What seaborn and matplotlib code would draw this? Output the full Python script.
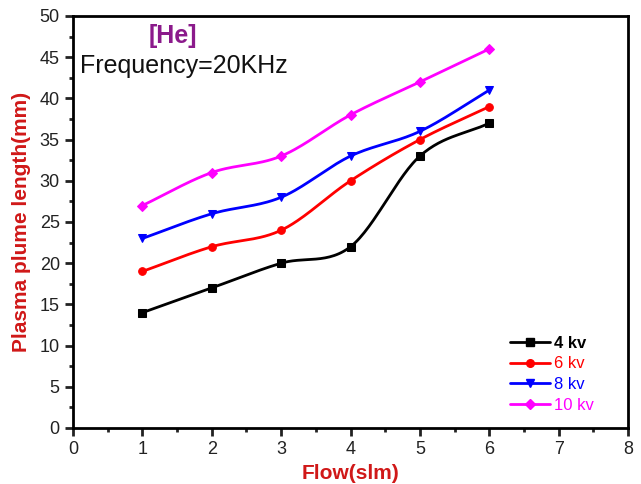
import numpy as np
import pandas as pd
import matplotlib
matplotlib.use("Agg")
import matplotlib.pyplot as plt
import seaborn as sns

flow = [1, 2, 3, 4, 5, 6]
v4 = [14, 17, 20, 22, 33, 37]
v6 = [19, 22, 24, 30, 35, 39]
v8 = [23, 26, 28, 33, 36, 41]
v10 = [27, 31, 33, 38, 42, 46]
series_labels = ["4 kv", "6 kv", "8 kv", "10 kv"]
colors = ["#000000", "#ff0000", "#0000ff", "#ff00ff"]
markers = ["s", "o", "v", "D"]

sns.set_style("white")
plt.rcParams["font.family"] = ["Liberation Sans", "DejaVu Sans"]

fig = plt.figure(figsize=(6.41, 4.84), dpi=100)
ax = fig.add_axes([73/641, 1-428/484, 555/641, 412/484])


def smooth(x, y, n=30):
    x = np.asarray(x, float); y = np.asarray(y, float)
    xs, ys = [], []
    px = np.concatenate([[2*x[0]-x[1]], x, [2*x[-1]-x[-2]]])
    py = np.concatenate([[2*y[0]-y[1]], y, [2*y[-1]-y[-2]]])
    for i in range(1, len(px)-2):
        t = np.linspace(0, 1, n, endpoint=False)
        p0, p1, p2, p3 = py[i-1], py[i], py[i+1], py[i+2]
        yy = 0.5*((2*p1) + (-p0+p2)*t + (2*p0-5*p1+4*p2-p3)*t**2 + (-p0+3*p1-3*p2+p3)*t**3)
        xx = px[i] + (px[i+1]-px[i])*t
        xs.append(xx); ys.append(yy)
    xs.append([x[-1]]); ys.append([y[-1]])
    return np.concatenate(xs), np.concatenate(ys)

handles = []
for vals, lab, c, m in zip([v4, v6, v8, v10], series_labels, colors, markers):
    ms = 5.5 if m != "D" else 5
    sx, sy = smooth(flow, vals)
    ax.plot(sx, sy, color=c, lw=2)
    df = pd.DataFrame({"Flow": flow, "L": vals})
    sns.lineplot(data=df, x="Flow", y="L", ax=ax, color=c, marker=m, markersize=ms,
                 markeredgecolor=c, linestyle="none")
    h, = ax.plot([], [], color=c, lw=2, marker=m, markersize=ms, markeredgecolor=c)
    handles.append(h)

ax.set_xlim(0, 8)
ax.set_ylim(0, 50)
ax.set_xticks(range(0, 9))
ax.set_yticks(range(0, 51, 5))
ax.set_xticks(np.arange(0.5, 8, 1), minor=True)
ax.set_yticks(np.arange(2.5, 50, 5), minor=True)
ax.tick_params(axis="both", which="major", direction="out", length=6, width=2, labelsize=13, colors="#222222",
               bottom=True, left=True, top=False, right=False)
ax.tick_params(axis="both", which="minor", direction="out", length=3, width=2,
               bottom=True, left=True, top=False, right=False)
for s in ax.spines.values():
    s.set_linewidth(2)
    s.set_color("black")

ax.set_xlabel("Flow(slm)", color="#d01818", fontsize=15, fontweight="bold", labelpad=4)
ax.set_ylabel("Plasma plume length(mm)", color="#d01818", fontsize=15, fontweight="bold", labelpad=6)

ax.text(0.137, 0.952, "[He]", transform=ax.transAxes, color="#8b1a8b", fontsize=18, fontweight="bold",
        ha="left", va="center")
ax.text(0.012, 0.878, "Frequency=20KHz", transform=ax.transAxes, color="#111111", fontsize=18,
        ha="left", va="center")

leg = ax.legend(handles, series_labels, loc="lower right", bbox_to_anchor=(0.965, 0.0), frameon=False,
                fontsize=12, handlelength=2.4, handletextpad=0.2, labelspacing=0.35)
for t, c in zip(leg.get_texts(), colors):
    t.set_color(c)
leg.get_texts()[0].set_fontweight("bold")

fig.savefig("out.png", dpi=100)
